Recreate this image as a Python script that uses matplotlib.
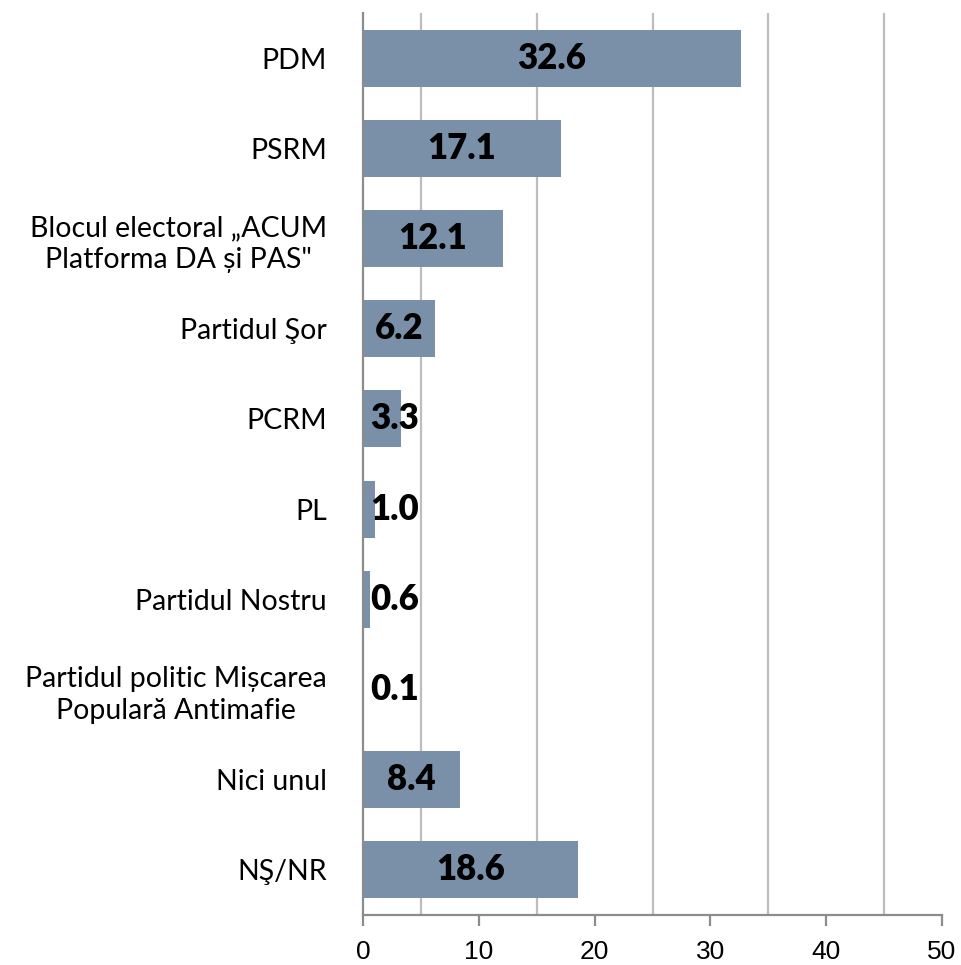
import matplotlib
matplotlib.use("Agg")
import matplotlib.pyplot as plt

categories = ["PDM", "PSRM", "Blocul electoral „ACUM\nPlatforma DA și PAS\"", "Partidul Şor",
              "PCRM", "PL", "Partidul Nostru", "Partidul politic Mișcarea\nPopulară Antimafie",
              "Nici unul", "NŞ/NR"]
values = [32.6, 17.1, 12.1, 6.2, 3.3, 1.0, 0.6, 0.1, 8.4, 18.6]
xticks = [0, 10, 20, 30, 40, 50]

fig = plt.figure(figsize=(9.61, 9.65), dpi=100)
ax = fig.add_axes([363 / 961, 50 / 965, 579 / 961, 902 / 965])

bar_color = "#7A90A8"
ypos = list(range(len(categories)))
ax.barh(ypos, values, height=0.63, color=bar_color, zorder=3)

ax.set_xlim(0, 50)
ax.set_ylim(len(categories) - 0.5, -0.5)
ax.set_xticks(xticks)
ax.grid(False)
# gridlines only at odd multiples of 5
for g in [5, 15, 25, 35, 45]:
    ax.axvline(g, color="#BDBDBD", lw=1.6, zorder=1)

ax.set_yticks(ypos)
ax.set_yticklabels(categories, fontsize=20.5, family=["Lato", "DejaVu Sans"],
                   linespacing=1.3)
ax.tick_params(axis="y", length=0, pad=26)
for lbl in ax.get_yticklabels():
    lbl.set_horizontalalignment("right")
    lbl.set_multialignment("center")

ax.tick_params(axis="x", which="major", direction="out", length=8, width=1.6,
               color="#8C8C8C", labelsize=19, pad=10)
for lbl in ax.get_xticklabels():
    lbl.set_family(["Liberation Sans", "DejaVu Sans"])

for s in ["top", "right"]:
    ax.spines[s].set_visible(False)
for s in ["left", "bottom"]:
    ax.spines[s].set_color("#8C8C8C")
    ax.spines[s].set_linewidth(1.6)
    ax.spines[s].set_zorder(4)

for y, v in zip(ypos, values):
    x = max(v / 2, 2.7)
    ax.text(x, y, f"{v:.1f}", ha="center", va="center", fontsize=25, fontweight="heavy",
            family=["Lato", "DejaVu Sans"], color="black", zorder=5)

fig.savefig("out.png", dpi=100)
